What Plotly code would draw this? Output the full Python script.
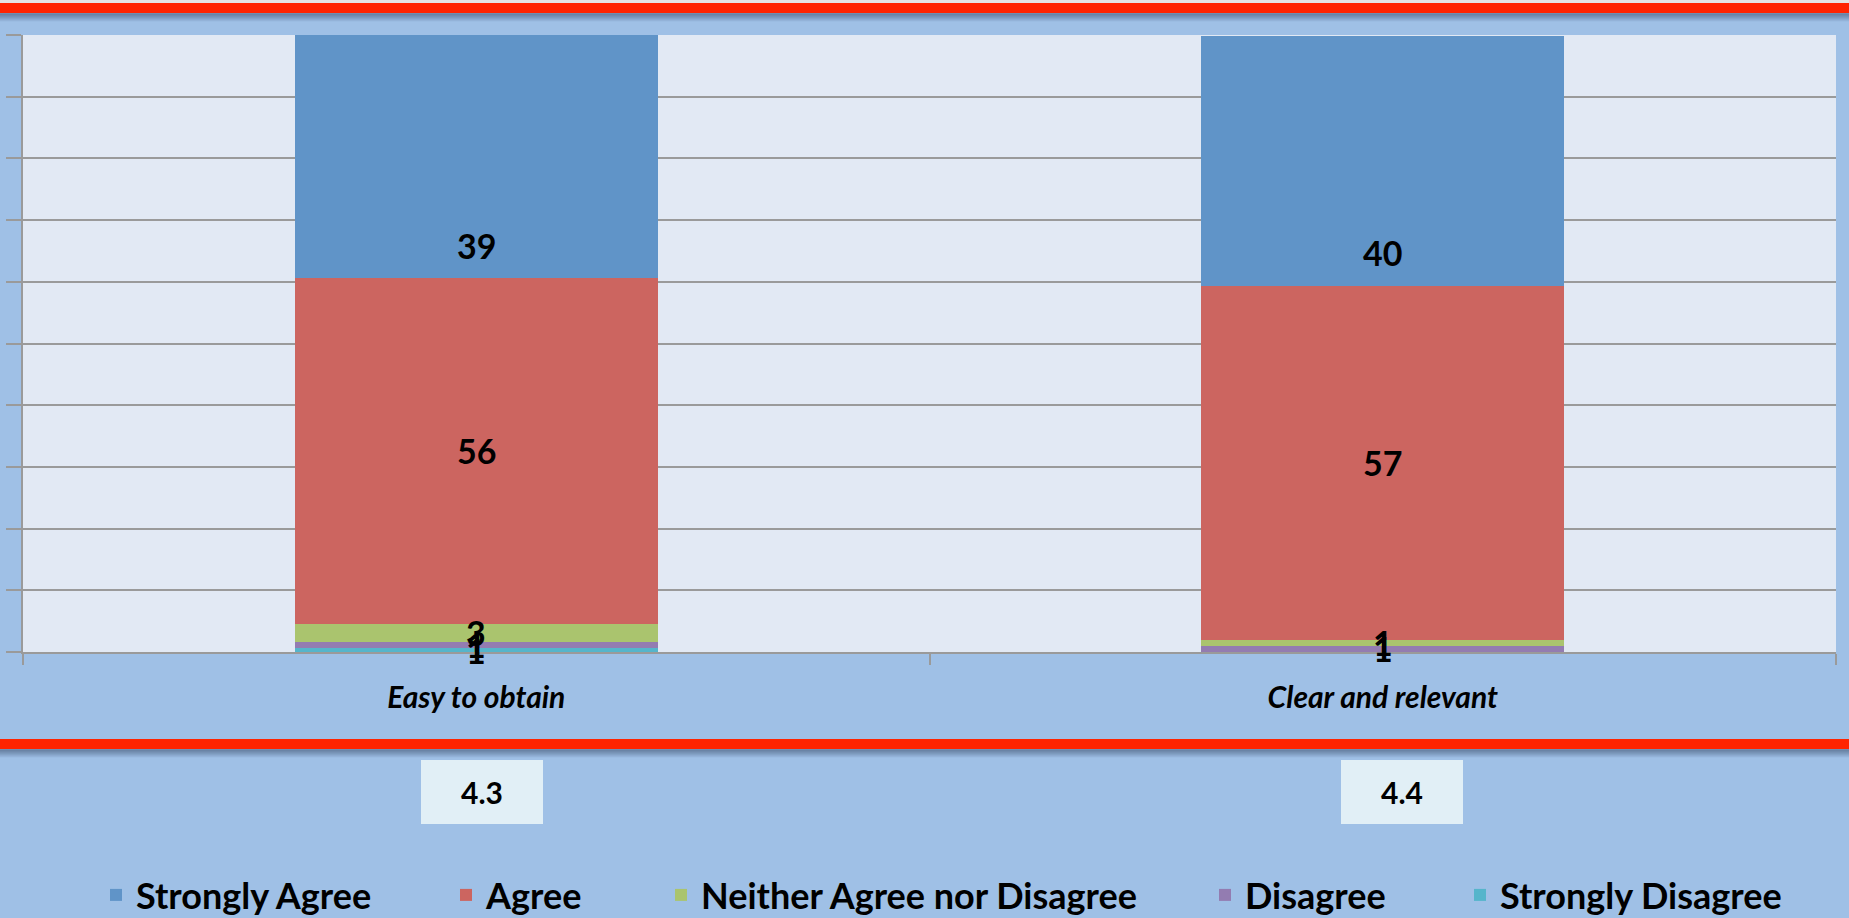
import plotly.graph_objects as go

# ---------------- data ----------------
categories = ["Easy to obtain", "Clear and relevant"]
series_names = ["Strongly Agree", "Agree", "Neither Agree nor Disagree", "Disagree", "Strongly Disagree"]
strongly_agree = [39.4, 40.4]
agree = [56.0, 57.4]
neither = [2.9, 1.0]
disagree = [1.1, 1.0]
strongly_disagree = [0.6, 0.0]
mean_scores = ["4.3", "4.4"]

series_values = [strongly_agree, agree, neither, disagree, strongly_disagree]
colors = ["#6094C8", "#CC6560", "#AAC46E", "#937CB1", "#55B5CB"]

# ---------------- geometry helpers (pixel -> paper) ----------------
W, H = 1849, 918
L, R, T, B = 23, 13, 35, 266
PW = W - L - R
PH = H - T - B


def px2x(px):
    return (px - L) / PW


def py2y(py):
    return (H - B - py) / PH


FONT = "Lato, 'Open Sans', sans-serif"

fig = go.Figure()

legend_lefts = [96, 446, 661, 1205, 1460]
# add from the bottom of the stack upwards (Strongly Disagree first)
for i in range(len(series_names) - 1, -1, -1):
    name, vals, col = series_names[i], series_values[i], colors[i]
    lg = "legend" if i == 0 else f"legend{i + 1}"
    fig.add_trace(go.Bar(
        x=categories, y=vals, name=name, marker=dict(color=col, line=dict(width=0)),
        width=0.4, legend=lg, hoverinfo="name+y",
    ))
    fig.update_layout({lg: dict(
        x=px2x(legend_lefts[i]), y=py2y(895), xanchor="left", yanchor="middle",
        orientation="h", bgcolor="rgba(0,0,0,0)", borderwidth=0,
        font=dict(family=FONT, size=36, color="black", weight="bold"),
    )})

# data labels computed from the data
annotations = []
LABEL_SIZE = 34
for ci, cat in enumerate(categories):
    base = 0.0
    for si in range(len(series_values) - 1, -1, -1):
        v = series_values[si][ci]
        if v > 0:
            label = f"{int(v + 0.5)}"
            if si == 0:
                annotations.append(dict(x=cat, y=base, text=f"<b>{label}</b>", showarrow=False,
                                        yshift=33, font=dict(family=FONT, size=LABEL_SIZE, color="black")))
            else:
                annotations.append(dict(x=cat, y=base + v / 2, text=f"<b>{label}</b>", showarrow=False,
                                        font=dict(family=FONT, size=LABEL_SIZE, color="black")))
        base += v

# score boxes
box_centers = [482, 1402]
shapes = []
for cx, sc in zip(box_centers, mean_scores):
    shapes.append(dict(type="rect", xref="paper", yref="paper",
                       x0=px2x(cx - 61), x1=px2x(cx + 61), y0=py2y(824), y1=py2y(760),
                       fillcolor="#E1EFF6", line=dict(width=0), layer="above"))
    annotations.append(dict(xref="paper", yref="paper", x=px2x(cx), y=py2y(792), text=f"<b>{sc}</b>",
                            xanchor="center", yanchor="middle",
                            showarrow=False, font=dict(family=FONT, size=30, color="black")))

# red frame lines with soft shadows
shapes.append(dict(type="rect", xref="paper", yref="paper", x0=px2x(0), x1=px2x(W),
                   y0=py2y(3), y1=py2y(0), fillcolor="#E4E4E2", line=dict(width=0), layer="above"))
for top, bot in [(3, 13), (739, 749)]:
    for k in range(8):
        shapes.append(dict(type="rect", xref="paper", yref="paper", x0=px2x(0), x1=px2x(W),
                           y0=py2y(bot + k + 1.5), y1=py2y(bot + k),
                           fillcolor=f"rgba(60,80,110,{0.45 * (1 - k / 8):.3f})",
                           line=dict(width=0), layer="above"))
    shapes.append(dict(type="rect", xref="paper", yref="paper", x0=px2x(0), x1=px2x(W),
                       y0=py2y(bot), y1=py2y(top), fillcolor="#FF2400", line=dict(width=0), layer="above"))

fig.update_layout(
    width=W, height=H, margin=dict(l=L, r=R, t=T, b=B, pad=0, autoexpand=False),
    paper_bgcolor="#9FC0E6", plot_bgcolor="#E2E9F4",
    barmode="stack", bargap=0.6, showlegend=True,
    font=dict(family=FONT, color="black"),
    annotations=annotations, shapes=shapes,
    xaxis=dict(type="category", range=[-0.5, 1.5], tickson="boundaries", ticks="outside",
               ticklen=11, tickwidth=2, tickcolor="#9A9A9A", showline=True, linecolor="#9A9A9A",
               linewidth=2, showgrid=False, zeroline=False, automargin=False,
               tickfont=dict(family=FONT, size=30, color="black", weight="bold", style="italic"),
               ticklabelstandoff=18),
    yaxis=dict(range=[0, 100], dtick=10, showticklabels=False, ticks="outside", ticklen=15,
               tickwidth=2, tickcolor="#9A9A9A", showline=True, linecolor="#9A9A9A", linewidth=2,
               showgrid=True, gridcolor="#9A9A9A", gridwidth=2, zeroline=False, automargin=False),
)

fig.write_html("out.html", config={"displayModeBar": False},
               post_script="document.body.style.margin='0';document.body.style.overflow='hidden';")
